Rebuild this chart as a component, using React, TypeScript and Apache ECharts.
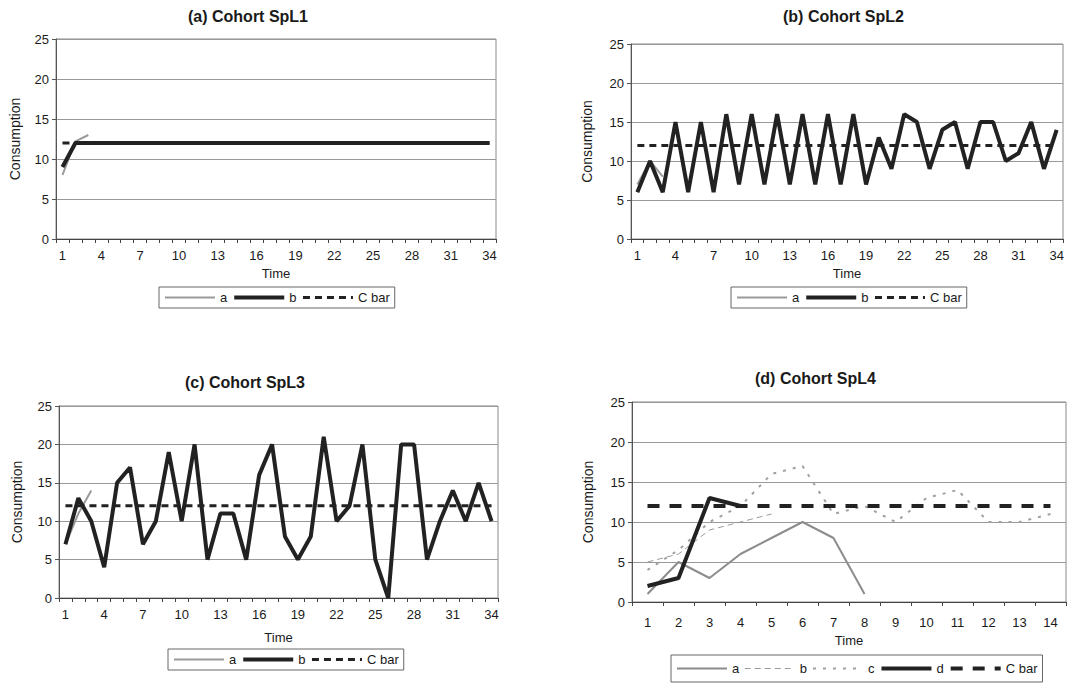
import React, { useEffect, useRef } from 'react';
import * as echarts from 'echarts';

const FONT = '"Liberation Sans", Arial, Helvetica, sans-serif';

// ---- data ----
const time34 = ['1','2','3','4','5','6','7','8','9','10','11','12','13','14','15','16','17','18','19','20','21','22','23','24','25','26','27','28','29','30','31','32','33','34'];
const time14 = ['1','2','3','4','5','6','7','8','9','10','11','12','13','14'];

const cBar34 = [12,12,12,12,12,12,12,12,12,12,12,12,12,12,12,12,12,12,12,12,12,12,12,12,12,12,12,12,12,12,12,12,12,12];
const cBar14 = [12,12,12,12,12,12,12,12,12,12,12,12,12,12];

const spl1A = [8, 12.2, 13];
const spl1B = [9,12,12,12,12,12,12,12,12,12,12,12,12,12,12,12,12,12,12,12,12,12,12,12,12,12,12,12,12,12,12,12,12,12];

const spl2A = [7, 10, 8];
const spl2B = [6,10,6,15,6,15,6,16,7,16,7,16,7,16,7,16,7,16,7,13,9,16,15,9,14,15,9,15,15,10,11,15,9,14];

const spl3A = [7, 11, 14];
const spl3B = [7,13,10,4,15,17,7,10,19,10,20,5,11,11,5,16,20,8,5,8,21,10,12,20,5,0,20,20,5,10,14,10,15,10];

const spl4A = [1,5,3,6,8,10,8,1];
const spl4B = [5,6,9,10,11];
const spl4C = [4,6.5,10,12,16,17,11,12,10,13,14,10,10,11];
const spl4D = [2,3,13,12];

const yTicks = { min: 0, max: 25, interval: 5 };

function lineSeries(name: string, data: number[], color: string, width: number, type: any = 'solid') {
  return {
    type: 'line',
    name,
    data,
    symbol: 'none',
    showSymbol: false,
    silent: true,
    lineStyle: { color, width, type },
    itemStyle: { color },
  };
}

function makeOption(cfg: any) {
  return {
    animation: false,
    textStyle: { fontFamily: FONT },
    title: {
      text: cfg.title,
      left: cfg.titleLeft,
      top: cfg.titleTop,
      padding: 0,
      textStyle: { fontSize: 16, fontWeight: 'bold', color: '#1a1a1a', fontFamily: FONT },
    },
    grid: {
      left: cfg.grid[0], top: cfg.grid[1], width: cfg.grid[2], height: cfg.grid[3],
      show: true, borderColor: '#8a8a8a', borderWidth: 1, backgroundColor: 'transparent',
    },
    legend: {
      left: cfg.legend[0], top: cfg.legend[1],
      padding: cfg.legendPad,
      itemWidth: 50, itemHeight: 10, itemGap: 5,
      borderColor: '#666', borderWidth: 1,
      selectedMode: false,
      textStyle: { fontSize: 13, color: '#1a1a1a', fontFamily: FONT },
      lineStyle: { width: 'inherit' },
      itemStyle: { opacity: 0 },
      data: cfg.series.map((s: any) => s.name),
    },
    xAxis: {
      type: 'category',
      data: cfg.categories,
      boundaryGap: true,
      axisLine: { show: true, lineStyle: { color: '#444', width: 1 } },
      axisTick: { show: true, interval: 0, length: 4, lineStyle: { color: '#444' } },
      axisLabel: { interval: cfg.labelInterval, margin: cfg.labelMargin, fontSize: 13, color: '#1a1a1a', fontFamily: FONT },
      splitLine: { show: false },
      name: 'Time',
      nameLocation: 'middle',
      nameGap: cfg.timeGap,
      nameTextStyle: { fontSize: 13, color: '#1a1a1a', fontFamily: FONT },
    },
    yAxis: {
      type: 'value',
      ...yTicks,
      axisLine: { show: true, lineStyle: { color: '#555', width: 1 } },
      axisTick: { show: true, length: 4, lineStyle: { color: '#555' } },
      axisLabel: { fontSize: 13, color: '#1a1a1a', margin: 7, fontFamily: FONT },
      splitLine: { show: true, lineStyle: { color: '#999', width: 1 } },
      name: 'Consumption',
      nameLocation: 'middle',
      nameGap: cfg.yGap,
      nameTextStyle: { fontSize: 14, color: '#1a1a1a', fontFamily: FONT },
    },
    series: cfg.series,
  };
}

const GRAY = '#9a9a9a';
const BLACK = '#222';

const optA = makeOption({
  title: '(a) Cohort SpL1', titleLeft: 188, titleTop: 8,
  grid: [55, 39, 441, 200],
  legend: [159, 287], legendPad: [4, 5],
  categories: time34, labelInterval: 2, labelMargin: 10, timeGap: 27, yGap: 34,
  series: [
    lineSeries('a', spl1A, GRAY, 2),
    lineSeries('b', spl1B, BLACK, 4),
    lineSeries('C bar', cBar34, BLACK, 3, [7, 5]),
  ],
});

const optB = makeOption({
  title: '(b) Cohort SpL2', titleLeft: 240, titleTop: 8,
  grid: [88, 44, 432, 195],
  legend: [188, 287], legendPad: [4, 5],
  categories: time34, labelInterval: 2, labelMargin: 10, timeGap: 27, yGap: 37,
  series: [
    lineSeries('a', spl2A, GRAY, 2),
    lineSeries('b', spl2B, BLACK, 4),
    lineSeries('C bar', cBar34, BLACK, 3, [7, 5]),
  ],
});

const optC = makeOption({
  title: '(c) Cohort SpL3', titleLeft: 185, titleTop: 32,
  grid: [59, 64, 439, 192],
  legend: [168, 307], legendPad: [4, 5],
  categories: time34, labelInterval: 2, labelMargin: 10, timeGap: 33, yGap: 35,
  series: [
    lineSeries('a', spl3A, GRAY, 2),
    lineSeries('b', spl3B, BLACK, 4),
    lineSeries('C bar', cBar34, BLACK, 3, [7, 5]),
  ],
});

const optD = makeOption({
  title: '(d) Cohort SpL4', titleLeft: 212, titleTop: 28,
  grid: [89, 60, 434, 200],
  legend: [128, 313], legendPad: [7, 5],
  categories: time14, labelInterval: 0, labelMargin: 14, timeGap: 31, yGap: 37,
  series: [
    lineSeries('a', spl4A, '#8c8c8c', 2),
    lineSeries('b', spl4B, '#9a9a9a', 1, [6, 4]),
    lineSeries('c', spl4C, '#a0a0a0', 2, [3, 7]),
    lineSeries('d', spl4D, BLACK, 4),
    lineSeries('C bar', cBar14, BLACK, 4, [12, 10]),
  ],
});

function Panel({ option, left, top, width, height }: any) {
  const ref = useRef<HTMLDivElement | null>(null);
  useEffect(() => {
    const chart = echarts.init(ref.current as HTMLDivElement, null, { renderer: 'svg' });
    chart.setOption(option);
    return () => chart.dispose();
  }, [option]);
  return <div ref={ref} style={{ position: 'absolute', left, top, width, height }} />;
}

export default function App() {
  return (
    <div style={{ position: 'absolute', left: 0, top: 0, width: 1087, height: 685, background: '#fff' }}>
      <Panel option={optA} left={0} top={0} width={543} height={342} />
      <Panel option={optB} left={543} top={0} width={544} height={342} />
      <Panel option={optC} left={0} top={342} width={543} height={343} />
      <Panel option={optD} left={543} top={342} width={544} height={343} />
    </div>
  );
}
